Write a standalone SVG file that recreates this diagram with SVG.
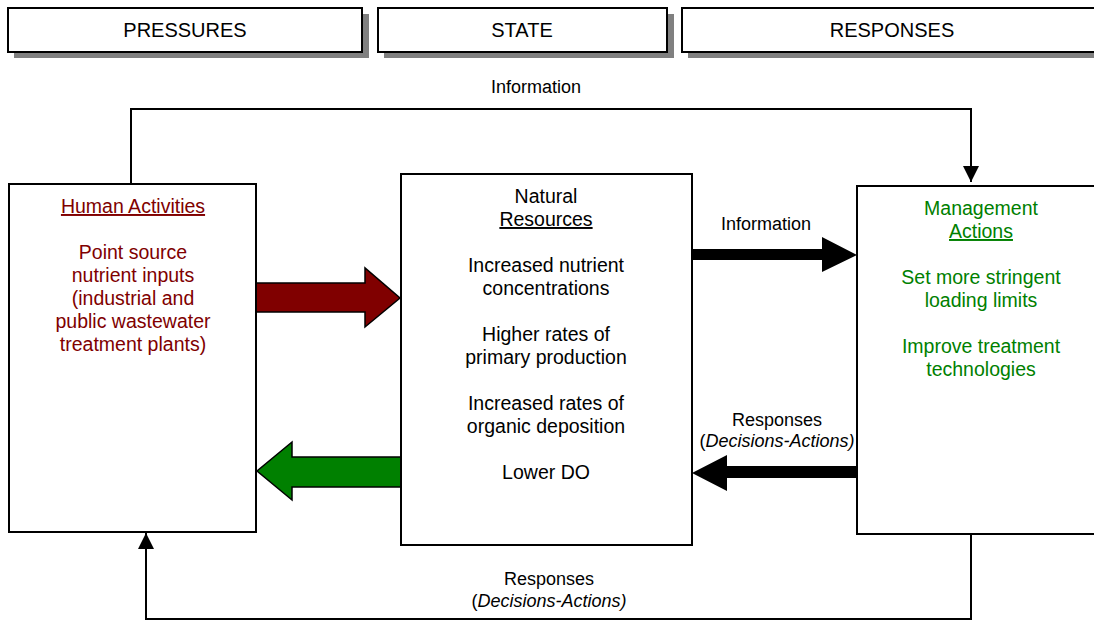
<svg xmlns="http://www.w3.org/2000/svg" width="1094" height="622" viewBox="0 0 1094 622">
<style>
text{font-family:"Liberation Sans",Arial,sans-serif;text-anchor:middle}
.hdr{font-size:20px;fill:#000}
.body{font-size:19.5px}
.lbl{font-size:18px;fill:#000}
.red{fill:#800000}
.grn{fill:#008000}
.blk{fill:#000}
.box{fill:#fff;stroke:#000;stroke-width:2}
.shadow{fill:#808080}
.line{fill:none;stroke:#000;stroke-width:2}
</style>
<defs>
<marker id="ah" viewBox="0 0 10 10" refX="10" refY="5" markerWidth="16" markerHeight="16" markerUnits="userSpaceOnUse" orient="auto">
<path d="M0,0 L10,5 L0,10 Z" fill="#000"/>
</marker>
</defs>

<g id="header-pressures">
<rect class="shadow" x="14" y="14" width="355" height="44"/>
<rect class="box" x="8" y="8" width="354" height="44"/>
<text class="hdr" x="185" y="37">PRESSURES</text>
</g>
<g id="header-state">
<rect class="shadow" x="384" y="14" width="290" height="44"/>
<rect class="box" x="378" y="8" width="289" height="44"/>
<text class="hdr" x="522" y="37">STATE</text>
</g>
<g id="header-responses">
<rect class="shadow" x="688" y="14" width="420" height="44"/>
<rect class="box" x="682" y="8" width="420" height="44"/>
<text class="hdr" x="892" y="37">RESPONSES</text>
</g>

<g id="connectors">
<polyline class="line" points="131,184 131,109 971,109 971,182" marker-end="url(#ah)"/>
<polyline class="line" points="971,534 971,619 146,619 146,533" marker-end="url(#ah)"/>
<text class="lbl" x="536" y="93">Information</text>
<text class="lbl" x="549" y="585">Responses</text>
<text class="lbl" x="549" y="607">(<tspan font-style="italic">Decisions-Actions)</tspan></text>
<polygon points="256,283 365,283 365,268 400,298 365,327 365,312 256,312" fill="#800000" stroke="#000" stroke-width="1.5"/>
<polygon points="401,457 292,457 292,442 257,471 292,500 292,487 401,487" fill="#008000" stroke="#000" stroke-width="1.5"/>
<polygon points="693,249 822,249 822,237 857,255 822,272 822,260 693,260" fill="#000"/>
<text class="lbl" x="766" y="230">Information</text>
<polygon points="856,466 727,466 727,455 692,473 727,491 727,478 856,478" fill="#000"/>
<text class="lbl" x="777" y="426">Responses</text>
<text class="lbl" x="777" y="447">(<tspan font-style="italic">Decisions-Actions)</tspan></text>
</g>

<g id="human-activities">
<rect class="box" x="9" y="184" width="247" height="348"/>
<text class="body red" x="133" y="213" text-decoration="underline">Human Activities</text>
<text class="body red" x="133" y="259">Point source</text>
<text class="body red" x="133" y="282">nutrient inputs</text>
<text class="body red" x="133" y="305">(industrial and</text>
<text class="body red" x="133" y="328">public wastewater</text>
<text class="body red" x="133" y="351">treatment plants)</text>
</g>

<g id="natural-resources">
<rect class="box" x="401" y="174" width="291" height="371"/>
<text class="body blk" x="546" y="203">Natural</text>
<text class="body blk" x="546" y="226" text-decoration="underline">Resources</text>
<text class="body blk" x="546" y="272">Increased nutrient</text>
<text class="body blk" x="546" y="295">concentrations</text>
<text class="body blk" x="546" y="341">Higher rates of</text>
<text class="body blk" x="546" y="364">primary production</text>
<text class="body blk" x="546" y="410">Increased rates of</text>
<text class="body blk" x="546" y="433">organic deposition</text>
<text class="body blk" x="546" y="479">Lower DO</text>
</g>

<g id="management-actions">
<rect class="box" x="857" y="186" width="250" height="348"/>
<text class="body grn" x="981" y="215">Management</text>
<text class="body grn" x="981" y="238" text-decoration="underline">Actions</text>
<text class="body grn" x="981" y="284">Set more stringent</text>
<text class="body grn" x="981" y="307">loading limits</text>
<text class="body grn" x="981" y="353">Improve treatment</text>
<text class="body grn" x="981" y="376">technologies</text>
</g>
</svg>
